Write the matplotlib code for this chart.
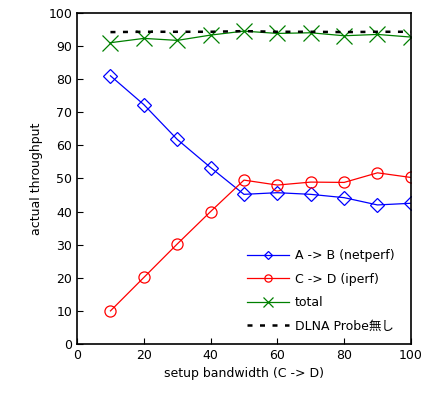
import matplotlib
matplotlib.use("Agg")
import matplotlib.pyplot as plt

plt.rcParams['font.family'] = ['DejaVu Sans', 'Noto Sans CJK JP']

bandwidth = [10, 20, 30, 40, 50, 60, 70, 80, 90, 100]
a_to_b = [81, 72.3, 61.8, 53.3, 45.2, 45.7, 45.2, 44.2, 42, 42.5]
c_to_d = [10, 20.1, 30.2, 40, 49.5, 48, 48.9, 48.8, 51.7, 50.3]
total = [91, 92.3, 91.7, 93.3, 94.5, 93.8, 94, 93.1, 93.5, 92.7]
no_probe = [94.2, 94.3, 94.3, 94.3, 94.5, 94.3, 94.3, 94.2, 94.3, 94.3]

fig = plt.figure(figsize=(4.38, 3.97), dpi=100)
ax = fig.add_axes([0.176, 0.1335, 0.762, 0.834])

ax.plot(bandwidth, a_to_b, color='#0000ff', lw=0.9, marker='D', ms=7,
        mfc='none', mec='#0000ff', mew=0.9, label='A -> B (netperf)')
ax.plot(bandwidth, c_to_d, color='#ff0000', lw=0.9, marker='o', ms=8,
        mfc='none', mec='#ff0000', mew=0.9, label='C -> D (iperf)')
ax.plot(bandwidth, total, color='#008000', lw=0.9, marker='x', ms=11,
        mew=0.9, label='total')
ax.plot(bandwidth, no_probe, color='black', lw=1.8, ls=(0, (2, 3)),
        label='DLNA Probe無し')

ax.set_xlim(0, 100)
ax.set_ylim(0, 100)
ax.set_xticks(range(0, 101, 20))
ax.set_yticks(range(0, 101, 10))
ax.tick_params(direction='in', labelsize=9, length=4)
for s in ax.spines.values():
    s.set_linewidth(1.2)
ax.set_xlabel('setup bandwidth (C -> D)', fontsize=9)
ax.set_ylabel('actual throughput', fontsize=9)

ax.legend(loc='lower right', bbox_to_anchor=(0.985, 0.0), frameon=False,
          fontsize=9, handlelength=3.3, labelspacing=0.85, markerscale=0.65,
          handletextpad=0.5)

fig.savefig('out.png', dpi=100)
